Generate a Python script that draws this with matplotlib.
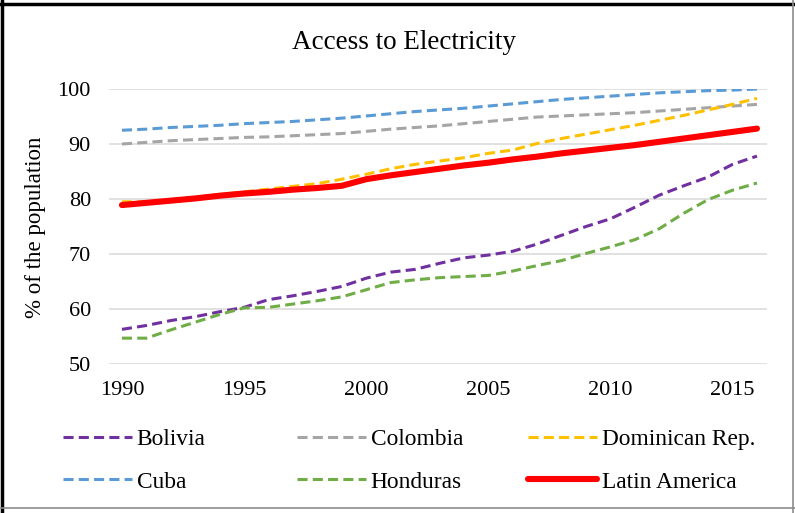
import numpy as np
import matplotlib
matplotlib.use('Agg')
import matplotlib.pyplot as plt
from matplotlib.lines import Line2D

plt.rcParams['font.family'] = ['Liberation Serif', 'DejaVu Serif']

years = list(range(1990, 2017))

bolivia = [56.3, 57.0, 57.9, 58.6, 59.5, 60.3, 61.7, 62.4, 63.2, 64.1, 65.6, 66.7, 67.2, 68.3,
           69.3, 69.8, 70.5, 71.8, 73.4, 75.0, 76.4, 78.5, 80.7, 82.4, 84.0, 86.3, 87.8]
colombia = [90.0, 90.3, 90.6, 90.8, 91.0, 91.2, 91.3, 91.5, 91.7, 91.9, 92.3, 92.7, 93.0, 93.3,
            93.7, 94.1, 94.5, 94.9, 95.1, 95.3, 95.5, 95.7, 96.0, 96.3, 96.6, 96.9, 97.2]
dominican = [79.5, 79.5, 79.8, 80.3, 80.8, 81.3, 81.8, 82.3, 82.8, 83.6, 84.5, 85.5, 86.3, 86.9,
             87.5, 88.3, 88.9, 90.1, 91.0, 91.8, 92.6, 93.4, 94.3, 95.2, 96.2, 97.2, 98.3]
cuba = [92.5, 92.7, 93.0, 93.2, 93.4, 93.7, 93.9, 94.1, 94.4, 94.7, 95.1, 95.5, 95.9, 96.2,
        96.5, 96.9, 97.3, 97.7, 98.1, 98.4, 98.7, 99.0, 99.3, 99.5, 99.7, 99.8, 100.0]
honduras = [54.7, 54.7, 56.2, 57.6, 59.0, 60.2, 60.3, 60.9, 61.5, 62.2, 63.5, 64.8, 65.3, 65.7,
            65.9, 66.1, 66.9, 67.9, 68.8, 70.1, 71.3, 72.6, 74.6, 77.4, 79.9, 81.6, 82.9]
latin_america = [78.9, 79.3, 79.7, 80.1, 80.6, 81.0, 81.3, 81.7, 82.0, 82.4, 83.6, 84.3, 84.9, 85.5,
                 86.1, 86.6, 87.2, 87.7, 88.3, 88.8, 89.3, 89.8, 90.4, 91.0, 91.6, 92.2, 92.8]

xticks = [1990, 1995, 2000, 2005, 2010, 2015]
yticks = [50, 60, 70, 80, 90, 100]

fig = plt.figure(figsize=(7.95, 5.13), dpi=100)
ax = fig.add_axes([109 / 795, 1 - 364 / 513, 658 / 795, 275 / 513])

dash = (3.3, 1.7)
lines = {}
lines['Bolivia'] = ax.plot(years, bolivia, color='#7030A0', lw=2.2, dashes=dash)[0]
lines['Colombia'] = ax.plot(years, colombia, color='#A5A5A5', lw=2.2, dashes=dash)[0]
lines['Dominican Rep.'] = ax.plot(years, dominican, color='#FFC000', lw=2.2, dashes=dash)[0]
lines['Cuba'] = ax.plot(years, cuba, color='#5B9BD5', lw=2.2, dashes=dash)[0]
lines['Honduras'] = ax.plot(years, honduras, color='#70AD47', lw=2.2, dashes=dash)[0]
lines['Latin America'] = ax.plot(years, latin_america, color='#FF0000', lw=4.4,
                                 solid_capstyle='round')[0]

ax.set_xlim(1989.47, 2016.41)
ax.set_ylim(50, 100)
ax.set_xticks(xticks)
ax.set_yticks(yticks)
ax.tick_params(length=0, labelsize=16, colors='#000000')
ax.tick_params(axis='x', pad=12)
ax.tick_params(axis='y', pad=13)
ax.grid(axis='y', color='#D9D9D9', lw=1.1)
ax.set_axisbelow(True)
for s in ax.spines.values():
    s.set_visible(False)

fig.text(404 / 795, 1 - 49 / 513, 'Access to Electricity', fontsize=19.5, ha='center', va='baseline')
fig.text(36 / 795, 1 - 227 / 513, '% of the population', fontsize=16.5, rotation=90,
         ha='center', va='center')

# legend in three columns placed like the original
cols = [(['Bolivia', 'Cuba'], 63), (['Colombia', 'Honduras'], 297),
        (['Dominican Rep.', 'Latin America'], 528)]
for names, xpos in cols:
    fig.legend([lines[n] for n in names], names, loc='upper left',
               bbox_to_anchor=(xpos / 795, 1 - 429 / 513), frameon=False, fontsize=16.8,
               handlelength=2.95, handletextpad=0.2, labelspacing=0.9,
               borderpad=0, borderaxespad=0)

# outer frame
fig.add_artist(Line2D([0.003, 0.003], [0, 1], color='black', lw=2.5, transform=fig.transFigure))
fig.add_artist(Line2D([0, 1], [0.993, 0.993], color='black', lw=2.5, transform=fig.transFigure))
fig.add_artist(Line2D([0.997, 0.997], [0, 1], color='#8C8C8C', lw=1.2, transform=fig.transFigure))
fig.add_artist(Line2D([0, 1], [0.01, 0.01], color='#8C8C8C', lw=1.2, transform=fig.transFigure))

fig.savefig('out.png', dpi=100)
